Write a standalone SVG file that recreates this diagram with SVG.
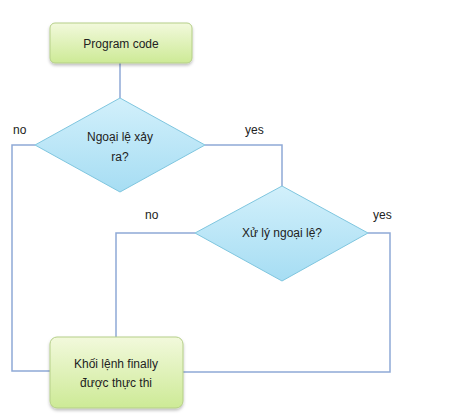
<svg xmlns="http://www.w3.org/2000/svg" width="451" height="418" viewBox="0 0 451 418">
<defs>
<linearGradient id="gGreen" x1="0" y1="0" x2="0" y2="1">
<stop offset="0" stop-color="#f2f9dc"/>
<stop offset="1" stop-color="#cdea96"/>
</linearGradient>
<linearGradient id="gBlue" x1="0" y1="0" x2="0" y2="1">
<stop offset="0" stop-color="#d2f0fb"/>
<stop offset="1" stop-color="#a6ddf3"/>
</linearGradient>
<filter id="sh" x="-20%" y="-20%" width="140%" height="150%">
<feDropShadow dx="0" dy="2" stdDeviation="1.5" flood-color="#000" flood-opacity="0.25"/>
</filter>
<style>
.conn{fill:none;stroke:#8fa9d6;stroke-width:1.5}
.box{fill:url(#gGreen);stroke:#b5cf88;stroke-width:1;filter:url(#sh)}
.dia{fill:url(#gBlue);stroke:#7fc6df;stroke-width:1}
text{font-family:"Liberation Sans",Arial,sans-serif;font-size:12px;fill:#222;text-anchor:middle}
.lbl{text-anchor:start}
</style>
</defs>
<rect width="451" height="418" fill="#fff"/>
<g id="connectors">
<path class="conn" d="M120 63 V98"/>
<path class="conn" d="M35 145 H12 V371 H50"/>
<path class="conn" d="M205 145 H282 V186"/>
<path class="conn" d="M195 233 H116 V337"/>
<path class="conn" d="M368 233 H390 V372 H183"/>
</g>
<g id="program-code">
<rect class="box" x="50" y="23" width="142" height="40" rx="5"/>
<text x="121" y="48">Program code</text>
</g>
<g id="decision-exception">
<polygon class="dia" points="120,98 205,145 120,192 35,145"/>
<text x="120" y="141">Ngoại lệ xảy</text>
<text x="120" y="161">ra?</text>
</g>
<g id="decision-handle">
<polygon class="dia" points="282,186 368,233 282,281 195,233"/>
<text x="282" y="237">Xử lý ngoại lệ?</text>
</g>
<g id="finally-block">
<rect class="box" x="50" y="337" width="133" height="71" rx="7"/>
<text x="116" y="368">Khối lệnh finally</text>
<text x="116" y="387">được thực thi</text>
</g>
<g id="labels">
<text class="lbl" x="13" y="134">no</text>
<text class="lbl" x="245" y="134">yes</text>
<text class="lbl" x="145" y="219">no</text>
<text class="lbl" x="373" y="219">yes</text>
</g>
</svg>
